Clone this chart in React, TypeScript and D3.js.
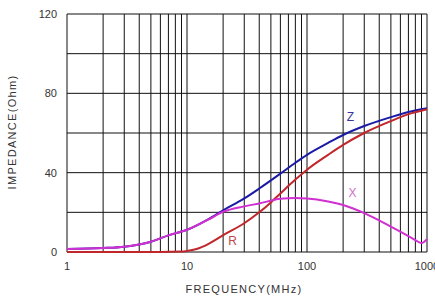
import React from "react";
import * as d3 from "d3";

// impedance vs frequency
const zFreq = [1, 2, 3, 5, 7, 10, 15, 20, 30, 40, 60, 80, 100, 150, 200, 300, 500, 700, 1000];
const zVals = [1.5, 2, 2.7, 5.2, 8.4, 11.2, 16.5, 21, 27, 32, 39.5, 45, 49, 55, 59, 63.5, 68, 70.6, 72.5];

const rFreq = [1, 3, 6, 9, 10, 12, 15, 20, 30, 40, 50, 60, 80, 100, 150, 200, 300, 500, 700, 1000];
const rVals = [0, 0, 0, 0.2, 0.5, 1.5, 4, 8.5, 14.5, 20, 25, 29.5, 36.5, 41.5, 49, 54, 60, 66, 69.5, 72];

const xFreq = [1, 2, 3, 5, 7, 10, 15, 20, 30, 40, 60, 80, 100, 150, 200, 300, 500, 700, 800, 900, 1000];
const xVals = [1.5, 2, 2.7, 5.2, 8.4, 11.2, 16.3, 20.3, 23, 24.5, 26.8, 27.2, 27, 25.5, 23.7, 19.6, 12.8, 8, 6, 4.5, 6.5];

const yTicks = [0, 40, 80, 120];
const yGrid = [0, 20, 40, 60, 80, 100, 120];
const xTicks = [1, 10, 100, 1000];

const W = 435;
const H = 298;
const margin = { top: 14, right: 8, bottom: 46, left: 67 };

export default function App() {
  const innerW = W - margin.left - margin.right;
  const innerH = H - margin.top - margin.bottom;

  const x = d3.scaleLog().domain([1, 1000]).range([0, innerW]);
  const y = d3.scaleLinear().domain([0, 120]).range([innerH, 0]);

  const vGrid: number[] = [];
  for (let d = 1; d < 1000; d *= 10) {
    for (let k = 1; k <= 9; k++) vGrid.push(d * k);
  }
  vGrid.push(1000);

  const line = d3
    .line<[number, number]>()
    .x((d) => x(d[0]))
    .y((d) => y(d[1]))
    .curve(d3.curveMonotoneX);

  // draw order: Z under R under X (as in the reference)
  const series = [
    { f: zFreq, v: zVals, color: "#1a1aa6" },
    { f: rFreq, v: rVals, color: "#c0262a" },
    { f: xFreq, v: xVals, color: "#d22fd2" },
  ];

  const font = "Liberation Sans, Arial, sans-serif";

  return (
    <svg width={W} height={H} style={{ position: "absolute", left: 0, top: 0, background: "#fff" }}>
      <g transform={`translate(${margin.left},${margin.top})`}>
        {vGrid.map((f) => (
          <line key={"v" + f} x1={x(f)} x2={x(f)} y1={0} y2={innerH} stroke="#111" strokeWidth={1} />
        ))}
        {yGrid.map((v) => (
          <line key={"h" + v} x1={0} x2={innerW} y1={y(v)} y2={y(v)} stroke="#111" strokeWidth={1} />
        ))}

        {series.map((s, i) => (
          <path
            key={i}
            d={line(s.f.map((f, j) => [f, s.v[j]] as [number, number])) || ""}
            fill="none"
            stroke={s.color}
            strokeWidth={2}
          />
        ))}

        {yTicks.map((v) => (
          <text key={"yt" + v} x={-10} y={y(v) + 4} textAnchor="end" fontSize={11} fill="#333" fontFamily={font}>
            {v}
          </text>
        ))}
        {xTicks.map((f) => (
          <text key={"xt" + f} x={x(f)} y={innerH + 18} textAnchor="middle" fontSize={11} fill="#333" fontFamily={font}>
            {f}
          </text>
        ))}

        <text x={x(230)} y={y(66)} fontSize={12} fill="#3636a0" textAnchor="middle" fontFamily={font}>Z</text>
        <text x={x(240)} y={y(27.5)} fontSize={12} fill="#d070d0" textAnchor="middle" fontFamily={font}>X</text>
        <text x={x(24)} y={y(3.5)} fontSize={12} fill="#c04848" textAnchor="middle" fontFamily={font}>R</text>
      </g>

      <text x={244} y={293} textAnchor="middle" fontSize={11} fill="#333" letterSpacing={1.3} fontFamily={font}>
        FREQUENCY(MHz)
      </text>
      <text transform={`translate(16,132) rotate(-90)`} textAnchor="middle" fontSize={11} fill="#333"
        letterSpacing={1.3} fontFamily={font}>
        IMPEDANCE(Ohm)
      </text>
    </svg>
  );
}
